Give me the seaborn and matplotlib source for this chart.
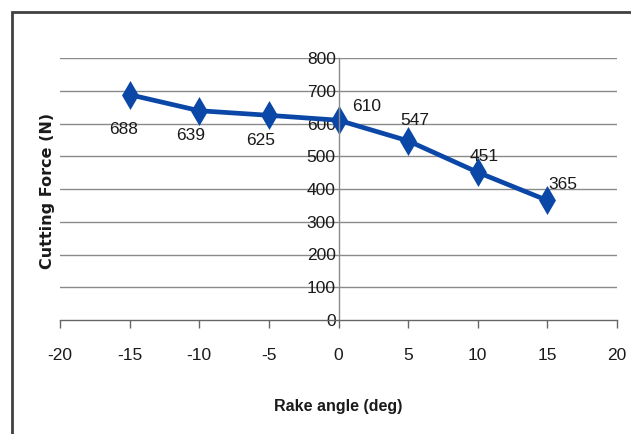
import numpy as np
import pandas as pd
import matplotlib
matplotlib.use("Agg")
import matplotlib.pyplot as plt
from matplotlib.patches import Rectangle
import seaborn as sns

# rake angle vs. cutting force
rake_angle = [-15, -10, -5, 0, 5, 10, 15]
cutting_force = [688, 639, 625, 610, 547, 451, 365]
# label offsets (px) so the numbers sit like the Excel original
label_dx = [-6, -9, -8, 28, 7, 6, 15]
label_dy = [-35, -25, -25, 14, 20, 16, 16]

x_ticks = list(range(-20, 21, 5))
y_ticks = list(range(0, 801, 100))

LINE_BLUE = "#0B47A6"
GRID = "#8A8A8A"

sns.set_theme(style="white")
plt.rcParams["font.family"] = ["Liberation Sans", "DejaVu Sans"]

df = pd.DataFrame({"rake": rake_angle, "force": cutting_force})

fig = plt.figure(figsize=(6.31, 4.34), dpi=100)
ax = fig.add_axes([60 / 631, 1 - 320 / 434, 557 / 631, 262 / 434])

sns.lineplot(data=df, x="rake", y="force", ax=ax, color=LINE_BLUE, lw=3.4,
             marker="d", markersize=12, markeredgecolor=LINE_BLUE,
             markeredgewidth=1.8)

for xv, yv, dx, dy in zip(rake_angle, cutting_force, label_dx, label_dy):
    ax.annotate(f"{yv}", (xv, yv), xytext=(dx * 0.72, dy * 0.72),
                textcoords="offset points", ha="center", va="center",
                fontsize=12.5, color="#1a1a1a")

# y axis sits at x = 0 (set before styling ticks: moving the spine resets them)
for side in ["top", "right"]:
    ax.spines[side].set_visible(False)
ax.spines["left"].set_position(("data", 0))
ax.spines["left"].set_color(GRID)
ax.spines["left"].set_linewidth(1)
ax.spines["bottom"].set_color("#666666")
ax.spines["bottom"].set_linewidth(1)

ax.set_xlim(-20, 20)
ax.set_ylim(0, 800)
ax.set_xticks(x_ticks)
ax.set_yticks(y_ticks)
ax.set_xticklabels([str(t) for t in x_ticks])
ax.set_yticklabels([str(t) for t in y_ticks])
ax.tick_params(axis="x", direction="out", length=6, width=1, color="#666666",
               pad=14, bottom=True, labelsize=12.5, labelcolor="#1a1a1a")
ax.tick_params(axis="y", length=0, pad=2, labelsize=12.5,
               labelcolor="#1a1a1a")
for lbl in ax.get_yticklabels():
    lbl.set_zorder(5)

for yv in y_ticks[1:]:
    ax.axhline(yv, color=GRID, lw=1, zorder=0)

ax.set_xlabel("Rake angle (deg)", fontsize=11.5, fontweight="bold",
              color="#1a1a1a", labelpad=26)
ax.set_ylabel("")
fig.text(48 / 631, 1 - 191 / 434, "Cutting Force (N)", rotation=90,
         ha="center", va="center", fontsize=11.5, fontweight="bold",
         family=["DejaVu Sans"], color="#1a1a1a")

# outer chart-area border (only top and left visible in the crop)
fig.patches.append(Rectangle((12 / 631, -0.2), 1.2, 0.2 + 1 - 12 / 434,
                             transform=fig.transFigure, fill=False,
                             edgecolor="#404040", lw=2, zorder=10))

fig.savefig("out.png", dpi=100)
